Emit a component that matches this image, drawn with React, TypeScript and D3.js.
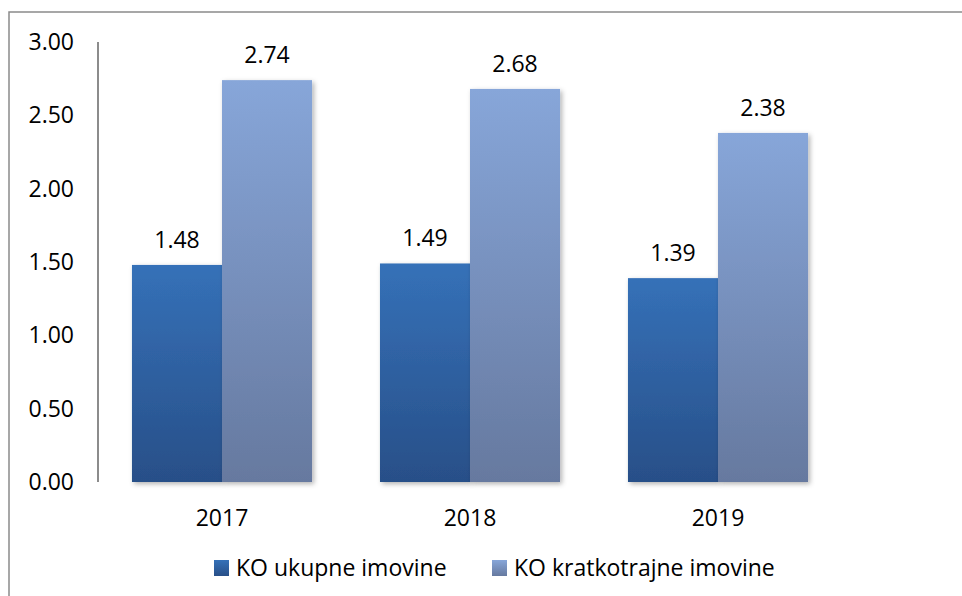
import React from "react";
import * as d3 from "d3";

const categories = ["2017", "2018", "2019"];
const seriesNames = ["KO ukupne imovine", "KO kratkotrajne imovine"];
const ukupne = [1.48, 1.49, 1.39];
const kratkotrajne = [2.74, 2.68, 2.38];
const yTicks = [0, 0.5, 1, 1.5, 2, 2.5, 3];

const W = 962;
const H = 596;
const left = 98;
const right = 842;
const top = 42;
const bottom = 482;
const font = "'Open Sans', 'Noto Sans', sans-serif";

export default function App() {
  const x = d3.scaleBand<string>().domain(categories).range([left, right]).paddingInner(0.274).paddingOuter(0.137);
  const sub = d3.scaleBand<number>().domain([0, 1]).range([0, x.bandwidth()]);
  const y = d3.scaleLinear().domain([0, 3]).range([bottom, top]);
  const series = [ukupne, kratkotrajne];
  const grads = ["gradA", "gradB"];
  const legendX = [214, 492];

  return (
    <svg width={W} height={H} style={{ position: "absolute", left: 0, top: 0, background: "#fff" }}>
      <defs>
        <linearGradient id="gradA" x1="0" y1="0" x2="0" y2="1">
          <stop offset="0" stopColor="#3571b8" />
          <stop offset="1" stopColor="#284f88" />
        </linearGradient>
        <linearGradient id="gradB" x1="0" y1="0" x2="0" y2="1">
          <stop offset="0" stopColor="#87a6d9" />
          <stop offset="1" stopColor="#66799f" />
        </linearGradient>
        <linearGradient id="legA" x1="0" y1="0" x2="0" y2="1">
          <stop offset="0" stopColor="#3571b8" />
          <stop offset="1" stopColor="#284f88" />
        </linearGradient>
        <linearGradient id="legB" x1="0" y1="0" x2="0" y2="1">
          <stop offset="0" stopColor="#87a6d9" />
          <stop offset="1" stopColor="#66799f" />
        </linearGradient>
        <filter id="shadow" x="-20%" y="-20%" width="140%" height="140%">
          <feDropShadow dx="2" dy="2" stdDeviation="2.5" floodColor="#000" floodOpacity="0.3" />
        </filter>
      </defs>
      <rect x={9} y={12} width={1200} height={1200} fill="none" stroke="#8a8a8a" strokeWidth={1.5} />
      {series.map((vals, si) =>
        categories.map((c, ci) => {
          const bx = (x(c) as number) + (sub(si) as number);
          const by = y(vals[ci]);
          return (
            <rect
              key={`b${si}-${ci}`}
              x={bx}
              y={by}
              width={sub.bandwidth()}
              height={bottom - by}
              fill={`url(#${grads[si]})`}
              filter="url(#shadow)"
            />
          );
        })
      )}
      <line x1={left} y1={top} x2={left} y2={bottom} stroke="#8c8c8c" strokeWidth={2} />
      <line x1={left} y1={bottom} x2={right} y2={bottom} stroke="#8c8c8c" strokeWidth={2} filter="url(#shadow)" />
      {yTicks.map((t) => (
        <text key={t} x={74} y={y(t)} dy="0.35em" textAnchor="end" fontFamily={font} fontSize={23} fill="#000">
          {d3.format(".2f")(t)}
        </text>
      ))}
      {categories.map((c) => (
        <text key={c} x={(x(c) as number) + x.bandwidth() / 2} y={526} textAnchor="middle" fontFamily={font} fontSize={23} fill="#000">
          {c}
        </text>
      ))}
      {series.map((vals, si) =>
        categories.map((c, ci) => (
          <text
            key={`l${si}-${ci}`}
            x={(x(c) as number) + (sub(si) as number) + sub.bandwidth() / 2}
            y={y(vals[ci]) - 17}
            textAnchor="middle"
            fontFamily={font}
            fontSize={23}
            fill="#000"
          >
            {d3.format(".2f")(vals[ci])}
          </text>
        ))
      )}
      {seriesNames.map((n, i) => (
        <g key={n}>
          <rect x={legendX[i]} y={560} width={15} height={16} fill={`url(#${i === 0 ? "legA" : "legB"})`} />
          <text x={legendX[i] + 22} y={576} fontFamily={font} fontSize={23} fill="#000">
            {n}
          </text>
        </g>
      ))}
    </svg>
  );
}
